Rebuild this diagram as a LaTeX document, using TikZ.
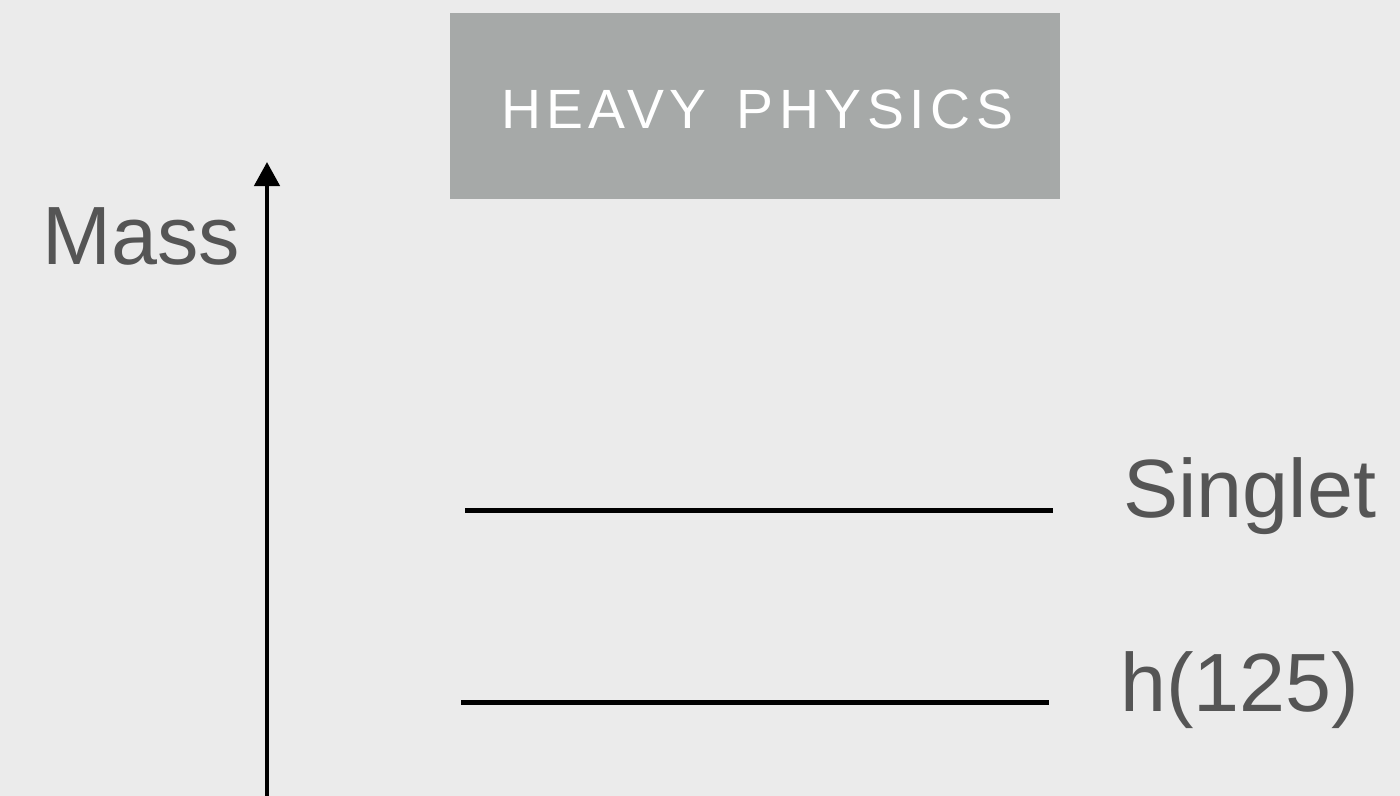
\documentclass[tikz,border=0pt]{standalone}
\usepackage{fontspec}
\setmainfont{Liberation Sans}
\newfontfamily\spacedfont[LetterSpace=10]{Liberation Sans}
\usetikzlibrary{arrows.meta}
\definecolor{bgc}{HTML}{EBEBEB}
\definecolor{boxc}{HTML}{A6A9A8}
\definecolor{txtc}{HTML}{555555}
\tikzset{
  lbl/.style={inner sep=0pt, anchor=base west, text=txtc, font=\fontsize{62}{70}\selectfont},
  level/.style={line width=3.75pt, black},
  axis/.style={line width=3.4pt, black, -{Triangle[width=18.75pt,length=18pt]}}
}
\begin{document}
\begin{tikzpicture}[x=0.75pt,y=-0.75pt]
\fill[bgc] (0,0) rectangle (1400,796);
\useasboundingbox (0,0) rectangle (1400,796);
\node[fill=boxc, minimum width=457.5pt, minimum height=139.5pt, inner sep=0pt, anchor=north west] (box) at (449.5,13) {};
\node[inner sep=0pt, anchor=base, text=white, font=\spacedfont\fontsize{41.5}{48}\selectfont] (heavy) at (757,128) {HEAVY\hspace{7pt} PHYSICS};
\coordinate (abot) at (267,800);
\coordinate (atop) at (267,162);
\draw[axis] (abot) -- (atop);
\node[lbl] (mass) at (42,264) {Mass};
\coordinate (s1) at (465,510.5);
\coordinate (s2) at (1053,510.5);
\draw[level] (s1) -- (s2);
\coordinate (h1) at (461,702.5);
\coordinate (h2) at (1049,702.5);
\draw[level] (h1) -- (h2);
\node[lbl] (singlet) at (1123,517) {Singlet};
\node[lbl] (higgs) at (1120,711) {h(125)};
\end{tikzpicture}
\end{document}
